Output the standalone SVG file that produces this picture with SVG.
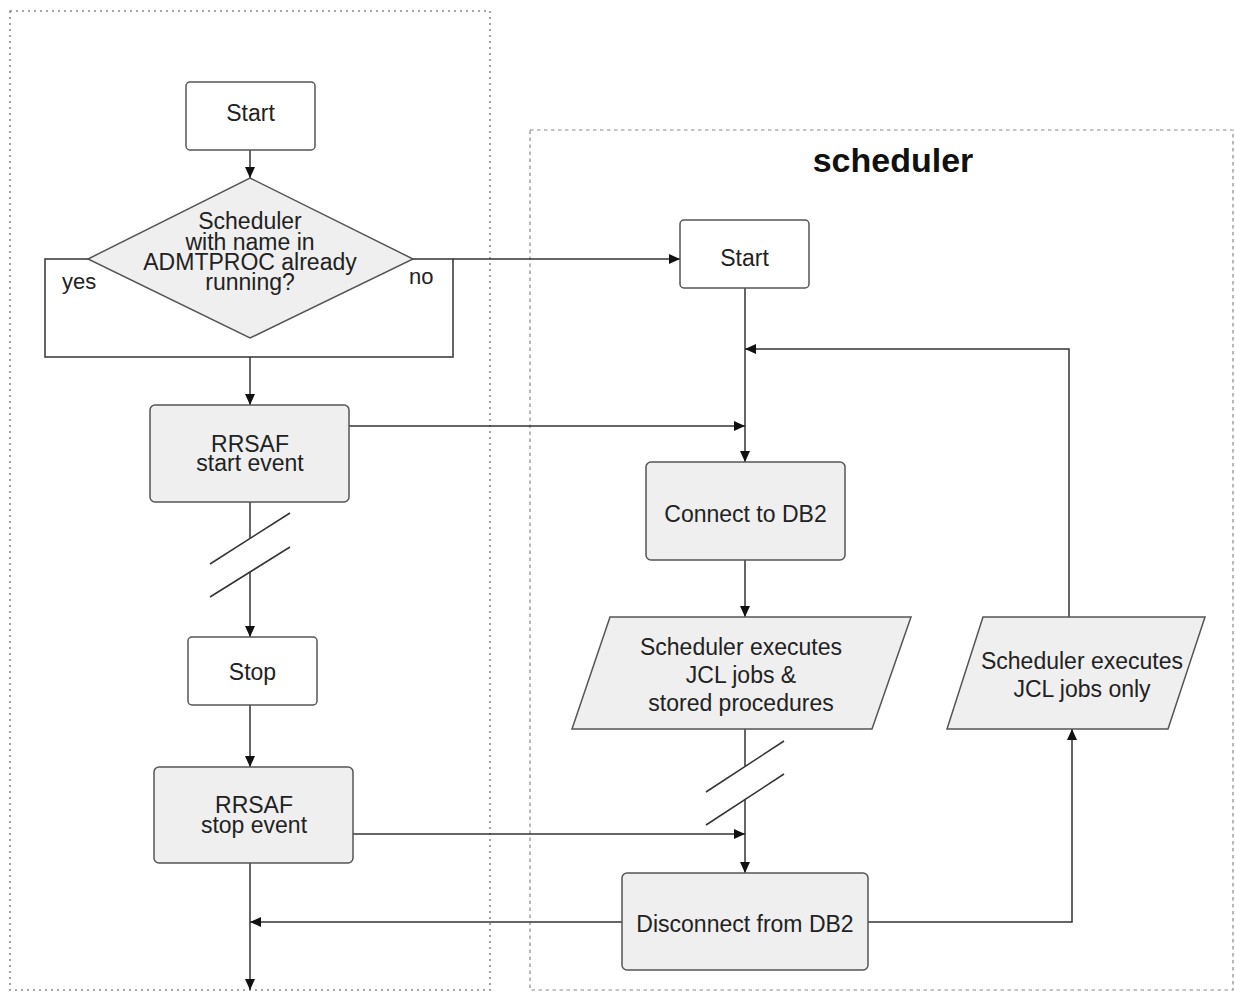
<svg xmlns="http://www.w3.org/2000/svg" width="1235" height="992" viewBox="0 0 1235 992">
<style>
  .bg{fill:#ffffff}
  .cont-l{fill:none;stroke:#8a8a8a;stroke-width:1.6;stroke-dasharray:2,4}
  .cont-r{fill:none;stroke:#8a8a8a;stroke-width:1.2;stroke-dasharray:3.5,3.5}
  .box{stroke:#555;stroke-width:1.5}
  .white{fill:#ffffff}
  .gray{fill:#efefef}
  .t{font-family:"Liberation Sans",Arial,Helvetica,sans-serif;font-size:23px;fill:#222;text-anchor:middle}
  .lbl{font-family:"Liberation Sans",Arial,Helvetica,sans-serif;font-size:22px;fill:#222}
  .title{font-family:"Liberation Sans",Arial,Helvetica,sans-serif;font-size:34px;font-weight:bold;fill:#111;text-anchor:middle}
  .ln{fill:none;stroke:#333;stroke-width:1.5}
</style>
<defs>
  <marker id="arr" markerUnits="userSpaceOnUse" markerWidth="12" markerHeight="10" refX="11" refY="5" orient="auto">
    <path d="M0,0 L11,5 L0,10 z" fill="#111"/>
  </marker>
</defs>
<rect class="bg" x="0" y="0" width="1235" height="992"/>

<g id="containers">
  <rect id="left-lane" class="cont-l" x="10" y="11" width="480" height="979"/>
  <rect id="scheduler-lane" class="cont-r" x="530" y="130" width="703" height="860"/>
  <text class="title" x="893" y="172">scheduler</text>
</g>

<g id="connectors">
  <line class="ln" x1="250" y1="150" x2="250" y2="178" marker-end="url(#arr)"/>
  <path class="ln" d="M88,259 H45 V357 H453 V259 H413"/>
  <line class="ln" x1="453" y1="259" x2="680" y2="259" marker-end="url(#arr)"/>
  <line class="ln" x1="250" y1="357" x2="250" y2="405" marker-end="url(#arr)"/>
  <line class="ln" x1="745" y1="288" x2="745" y2="462" marker-end="url(#arr)"/>
  <line class="ln" x1="349" y1="426" x2="745" y2="426" marker-end="url(#arr)"/>
  <path class="ln" d="M1069,617 V349 H745" marker-end="url(#arr)"/>
  <line class="ln" x1="745" y1="560" x2="745" y2="617" marker-end="url(#arr)"/>
  <line class="ln" x1="250" y1="502" x2="250" y2="538"/>
  <line class="ln" x1="210" y1="564" x2="290" y2="513"/>
  <line class="ln" x1="210" y1="597" x2="290" y2="547"/>
  <line class="ln" x1="250" y1="572" x2="250" y2="637" marker-end="url(#arr)"/>
  <line class="ln" x1="250" y1="705" x2="250" y2="767" marker-end="url(#arr)"/>
  <line class="ln" x1="745" y1="729" x2="745" y2="766"/>
  <line class="ln" x1="706" y1="792" x2="784" y2="741"/>
  <line class="ln" x1="706" y1="825" x2="784" y2="774"/>
  <line class="ln" x1="745" y1="800" x2="745" y2="873" marker-end="url(#arr)"/>
  <line class="ln" x1="353" y1="834" x2="745" y2="834" marker-end="url(#arr)"/>
  <line class="ln" x1="622" y1="922" x2="250" y2="922" marker-end="url(#arr)"/>
  <line class="ln" x1="250" y1="863" x2="250" y2="990" marker-end="url(#arr)"/>
  <path class="ln" d="M868,922 H1072 V729" marker-end="url(#arr)"/>
</g>

<g id="start">
  <rect class="box white" x="186" y="82" width="129" height="68" rx="4"/>
  <text class="t" x="250.5" y="121">Start</text>
</g>

<g id="decision">
  <polygon class="box gray" points="250,178 413,259 250,338 88,259"/>
  <text class="t" x="250" y="229">Scheduler</text>
  <text class="t" x="250" y="250">with name in</text>
  <text class="t" x="250" y="270">ADMTPROC already</text>
  <text class="t" x="250" y="290">running?</text>
</g>

<g id="label-yes"><text class="lbl" x="62" y="289">yes</text></g>
<g id="label-no"><text class="lbl" x="409" y="284">no</text></g>

<g id="rrsaf-start">
  <rect class="box gray" x="150" y="405" width="199" height="97" rx="5"/>
  <text class="t" x="250" y="452">RRSAF</text>
  <text class="t" x="250" y="471">start event</text>
</g>

<g id="stop">
  <rect class="box white" x="188" y="637" width="129" height="68" rx="4"/>
  <text class="t" x="252.5" y="680">Stop</text>
</g>

<g id="rrsaf-stop">
  <rect class="box gray" x="154" y="767" width="199" height="96" rx="5"/>
  <text class="t" x="254" y="813">RRSAF</text>
  <text class="t" x="254" y="833">stop event</text>
</g>

<g id="sched-start">
  <rect class="box white" x="680" y="220" width="129" height="68" rx="4"/>
  <text class="t" x="744.5" y="266">Start</text>
</g>

<g id="connect">
  <rect class="box gray" x="646" y="462" width="199" height="98" rx="5"/>
  <text class="t" x="745.5" y="522">Connect to DB2</text>
</g>

<g id="exec-all">
  <polygon class="box gray" points="610,617 911,617 872,729 572,729"/>
  <text class="t" x="741" y="655">Scheduler executes</text>
  <text class="t" x="741" y="683">JCL jobs &amp;</text>
  <text class="t" x="741" y="711">stored procedures</text>
</g>

<g id="exec-jcl">
  <polygon class="box gray" points="983,617 1205,617 1168,729 947,729"/>
  <text class="t" x="1082" y="669">Scheduler executes</text>
  <text class="t" x="1082" y="697">JCL jobs only</text>
</g>

<g id="disconnect">
  <rect class="box gray" x="622" y="873" width="246" height="97" rx="5"/>
  <text class="t" x="745" y="932">Disconnect from DB2</text>
</g>
</svg>
